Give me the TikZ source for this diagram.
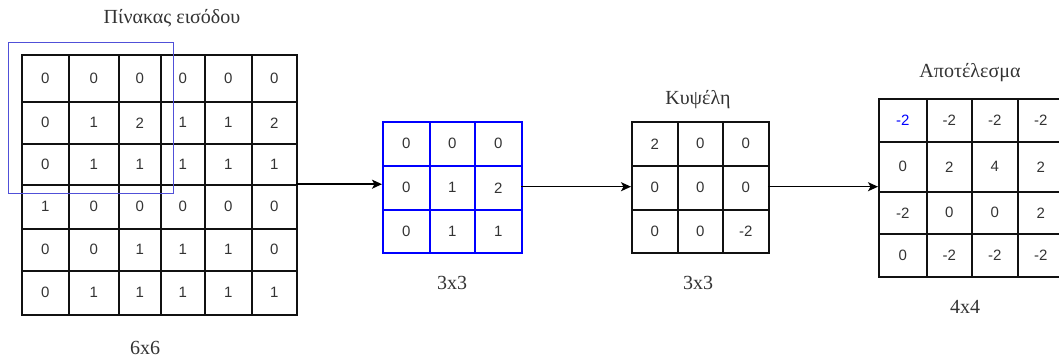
\documentclass[tikz,border=0pt]{standalone}
\usepackage{fontspec}
\setmainfont{Liberation Serif}
\newfontfamily\numfont{Liberation Sans}
\usetikzlibrary{arrows.meta}

\definecolor{ink}{HTML}{333333}
\definecolor{gridline}{HTML}{111111}
\definecolor{kblue}{HTML}{0000FF}
\definecolor{winblue}{HTML}{5050D8}

\tikzset{
  cell/.style={draw=gridline, line width=1.6pt, inner sep=0pt, anchor=north west,
    font=\numfont\fontsize{15}{15}\selectfont, text=ink},
  bluecell/.style={cell, draw=kblue},
  frame/.style={inner sep=0pt, anchor=north west},
  caption/.style={font=\fontsize{20}{20}\selectfont, text=ink},
  flow/.style={-{Stealth[length=10pt,width=9pt,inset=2.5pt]}, line width=1.5pt, black},
  window/.style={draw=winblue, line width=1.4pt, inner sep=0pt, anchor=north west},
  res cell 0-0/.style={text=kblue},
}

% #1 name, #2 column edges, #3 row edges, #4 values (row-wise), #5 size-1, #6 cell style
\newcommand\gridmatrix[6]{%
  \pgfmathsetmacro\gx{{#2}[0]}%
  \pgfmathsetmacro\gy{{#3}[0]}%
  \pgfmathsetmacro\gw{{#2}[#5+1]-\gx}%
  \pgfmathsetmacro\gh{{#3}[#5+1]-\gy}%
  \node[frame, minimum width=\gw pt, minimum height=\gh pt] (#1) at (\gx,\gy) {};
  \foreach \r in {0,...,#5} {
    \foreach \c in {0,...,#5} {
      \pgfmathsetmacro\xl{{#2}[\c]}%
      \pgfmathsetmacro\xr{{#2}[\c+1]}%
      \pgfmathsetmacro\yt{{#3}[\r]}%
      \pgfmathsetmacro\yb{{#3}[\r+1]}%
      \pgfmathsetmacro\cw{\xr-\xl}%
      \pgfmathsetmacro\ch{\yb-\yt}%
      \pgfmathtruncatemacro\k{\r*(#5+1)+\c}%
      \pgfmathtruncatemacro\v{{#4}[\k]}%
      \node[#6, minimum width=\cw pt, minimum height=\ch pt, #1 cell \r-\c/.try]
        (#1-\r-\c) at (\xl,\yt) {\v};
    }
  }
}

\begin{document}
\begin{tikzpicture}[x=1pt, y=-1pt]
  \path[use as bounding box] (0,0) rectangle (1059,358);

  % input matrix 6x6
  \gridmatrix{in}{21,68,118,160,204,251,296}{54,101,143,184,228,270,314}
    {0,0,0,0,0,0, 0,1,2,1,1,2, 0,1,1,1,1,1, 1,0,0,0,0,0, 0,0,1,1,1,0, 0,1,1,1,1,1}{5}{cell}
  % sliding window over the input
  \node[window, minimum width=165pt, minimum height=151pt] (win) at (8,42) {};

  % extracted window 3x3
  \gridmatrix{w}{382,429,474,521}{121,165,209,252}{0,0,0, 0,1,2, 0,1,1}{2}{bluecell}

  % kernel 3x3
  \gridmatrix{k}{631,677,722,768}{121,165,209,252}{2,0,0, 0,0,0, 0,0,-2}{2}{cell}

  % result 4x4
  \gridmatrix{res}{878,926,971,1017,1063}{98,141,191,233,276}
    {-2,-2,-2,-2, 0,2,4,2, -2,0,0,2, 0,-2,-2,-2}{3}{cell}

  % captions
  \node[caption] (inlabel) at (172,18) {Πίνακας εισόδου};
  \node[caption] (insize) at (145,348) {6x6};
  \node[caption] (wsize) at (452,283) {3x3};
  \node[caption] (klabel) at (698,100) {Κυψέλη};
  \node[caption] (ksize) at (698,283) {3x3};
  \node[caption] (rlabel) at (970,73) {Αποτέλεσμα};
  \node[caption] (rsize) at (965,307) {4x4};

  % data flow
  \draw[flow] (in.east) -- (in.east -| w.west);
  \draw[flow] (w.east) -- (k.west);
  \draw[flow] (k.east) -- (k.east -| res.west);
\end{tikzpicture}
\end{document}
